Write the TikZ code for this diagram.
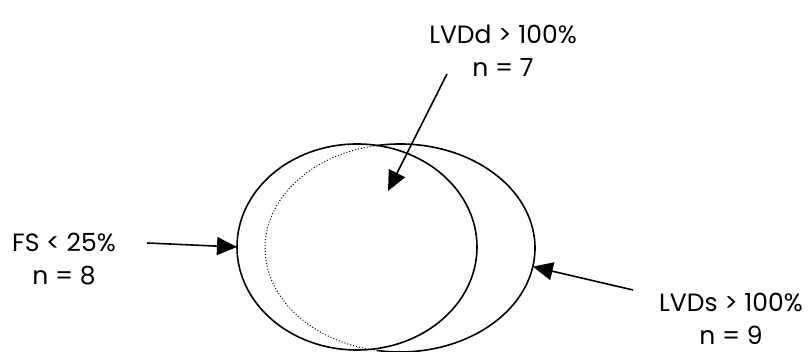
\documentclass[tikz,border=0pt]{standalone}
\usepackage{fontspec}
\setmainfont{Poppins}
\usetikzlibrary{positioning,arrows.meta,shapes.geometric}

\begin{document}
\begin{tikzpicture}[
      x=1pt, y=1pt,
      setbox/.style={ellipse, inner sep=0pt, outer sep=0pt,
                     minimum width=240pt, minimum height=206pt},
      label/.style={align=center, font=\fontsize{25}{33}\selectfont},
      arrow/.style={-{Triangle[length=20pt, width=18pt]}, line width=1.6pt},
      ring/.style={line width=1.6pt}
    ]
    \useasboundingbox (0,0) rectangle (812,352);
    % --- the two sets ---
    \node[setbox, draw, ring] (fsset) at (357,105) {};
    \node[setbox, minimum width=270pt, minimum height=208pt] (lvdsset) at (400,104) {};
    \draw[ring] (lvdsset.center) ++(100:135pt and 104pt)
      arc[start angle=100, end angle=-100, x radius=135pt, y radius=104pt];
    \draw[line width=1pt, dotted] (lvdsset.center) ++(100:135pt and 104pt)
      arc[start angle=100, end angle=260, x radius=135pt, y radius=104pt];

    % --- labels ---
    \node[label] (fs) at (64,93) {FS < 25\%\\n = 8};
    \node[label] (lvdd) at (503,301) {LVDd > 100\%\\n = 7};
    \node[label] (lvds) at (731,33) {LVDs > 100\%\\n = 9};

    \coordinate (fstail) at (147,109);
    \coordinate (lvddtail) at (447,278);
    \coordinate (lvddtip) at (388,161);
    \coordinate (lvdstail) at (633,62);

    \draw[arrow] (fstail) -- (fsset.west);
    \draw[arrow] (lvddtail) -- (lvddtip);
    \draw[arrow] (lvdstail) -- (lvdsset.-8);
  \end{tikzpicture}
\end{document}
